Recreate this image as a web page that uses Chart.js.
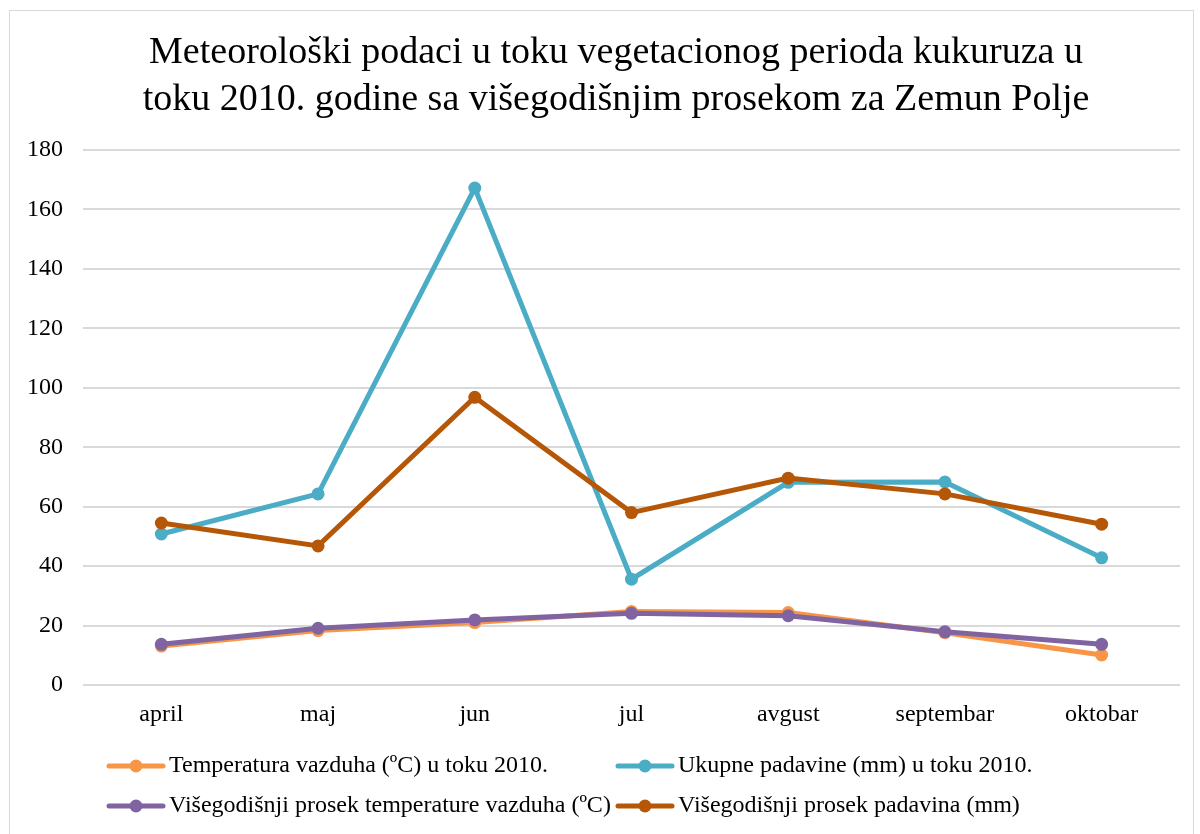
<!DOCTYPE html>
<html lang="sr">
  <head>
    <meta charset="UTF-8" />
    <title>Meteorološki podaci - Zemun Polje 2010</title>
    <script src="https://cdn.jsdelivr.net/npm/chart.js"></script>
    <style>
      body {
        margin: 0;
        background: #fff;
      }
      .frame {
        position: absolute;
        left: 9px;
        top: 10px;
        width: 1183px;
        height: 840px;
        border: 1px solid #d9d9d9;
      }
      canvas {
        position: absolute;
        left: 0;
        top: 0;
      }
    </style>
  </head>
  <body>
    <div class="frame"></div>
    <canvas id="myChart" width="1200" height="834"></canvas>

    <script>
      // months of the growing season
      var months = ["april", "maj", "jun", "jul", "avgust", "septembar", "oktobar"];

      // values
      var temp2010 = [13.1, 18.3, 21.0, 24.7, 24.4, 17.6, 10.1];
      var rain2010 = [50.8, 64.3, 167.2, 35.6, 68.2, 68.3, 42.8];
      var tempAvg = [13.7, 19.1, 21.9, 24.1, 23.3, 17.9, 13.7];
      var rainAvg = [54.5, 46.8, 96.8, 58.0, 69.6, 64.3, 54.1];

      var seriesNames = [
        "Temperatura vazduha (ºC) u toku 2010.",
        "Ukupne padavine (mm) u toku 2010.",
        "Višegodišnji prosek temperature vazduha (ºC)",
        "Višegodišnji prosek padavina (mm)"
      ];
      var seriesColors = ["#F79646", "#4BACC6", "#8064A2", "#B65708"];
      var yTicks = [0, 20, 40, 60, 80, 100, 120, 140, 160, 180];
      var titleLines = [
        "Meteorološki podaci u toku vegetacionog perioda kukuruza u",
        "toku 2010. godine sa višegodišnjim prosekom za Zemun Polje"
      ];

      var serif = "'Liberation Serif', 'Times New Roman', serif";

      function makeSet(i, data, order) {
        return {
          label: seriesNames[i],
          data: data,
          borderColor: seriesColors[i],
          backgroundColor: seriesColors[i],
          borderWidth: 5,
          pointRadius: 6.5,
          pointBorderWidth: 0,
          tension: 0,
          order: order
        };
      }

      // title sits a bit right of the plot centre in the original, so draw it here
      var offsetTitle = {
        id: "offsetTitle",
        afterDraw: function(chart) {
          var ctx = chart.ctx;
          ctx.save();
          ctx.font = "38px " + serif;
          ctx.fillStyle = "#000";
          ctx.textAlign = "center";
          ctx.textBaseline = "middle";
          ctx.fillText(titleLines[0], 616, 53);
          ctx.fillText(titleLines[1], 616, 100);
          ctx.restore();
        }
      };

      // legend in two columns, drawn by hand so it wraps like the original
      var twoColLegend = {
        id: "twoColLegend",
        afterDraw: function(chart) {
          var ctx = chart.ctx;
          var colX = [109, 618];
          var rowY = [766, 806];
          var sets = chart.data.datasets;
          ctx.save();
          ctx.font = "24px " + serif;
          ctx.textBaseline = "middle";
          ctx.textAlign = "left";
          for (var i = 0; i < sets.length; i++) {
            var x = colX[i % 2];
            var y = rowY[Math.floor(i / 2)];
            ctx.strokeStyle = sets[i].borderColor;
            ctx.lineWidth = 5;
            ctx.lineCap = "round";
            ctx.beginPath();
            ctx.moveTo(x, y);
            ctx.lineTo(x + 54, y);
            ctx.stroke();
            ctx.fillStyle = sets[i].borderColor;
            ctx.beginPath();
            ctx.arc(x + 27, y, 6.5, 0, Math.PI * 2);
            ctx.fill();
            ctx.fillStyle = "#000";
            ctx.fillText(sets[i].label, x + 60, y);
          }
          ctx.restore();
        }
      };

      var ctx = document.getElementById("myChart").getContext("2d");
      new Chart(ctx, {
        type: "line",
        data: {
          labels: months,
          datasets: [
            makeSet(0, temp2010, 4),
            makeSet(1, rain2010, 3),
            makeSet(2, tempAvg, 2),
            makeSet(3, rainAvg, 1)
          ]
        },
        options: {
          responsive: false,
          animation: false,
          layout: {
            padding: { left: 0, right: 20, top: 150, bottom: 104 }
          },
          plugins: {
            legend: { display: false },
            tooltip: { enabled: false },
            title: { display: false }
          },
          scales: {
            x: {
              offset: true,
              grid: { display: false, drawTicks: false },
              border: { display: false },
              ticks: {
                color: "#000",
                padding: 15,
                font: { family: serif, size: 24 }
              },
              afterFit: function(scale) {
                scale.height = 45;
              }
            },
            y: {
              min: 0,
              max: 180,
              afterBuildTicks: function(scale) {
                scale.ticks = yTicks.map(function(v) { return { value: v }; });
              },
              grid: { color: "#d9d9d9", lineWidth: 2, drawTicks: false },
              border: { display: false },
              ticks: {
                color: "#000",
                padding: 20,
                font: { family: serif, size: 24 }
              },
              afterFit: function(scale) {
                scale.width = 83;
              }
            }
          }
        },
        plugins: [offsetTitle, twoColLegend]
      });
    </script>
  </body>
</html>
